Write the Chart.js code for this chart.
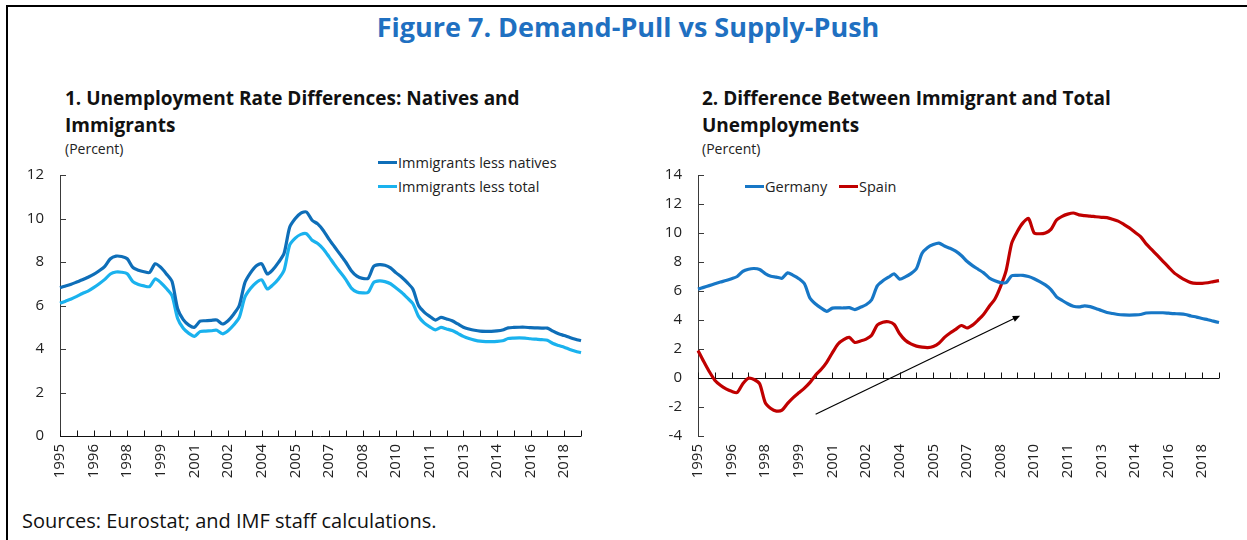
<!DOCTYPE html>
<html>
<head>
<meta charset="utf-8">
<script src="https://cdn.jsdelivr.net/npm/chart.js@4.4.1/dist/chart.umd.min.js"></script>
<style>
  body { margin: 0; background: #fff; font-family: "Open Sans", sans-serif; color: #1a1a1a; }
  #page { position: relative; width: 1247px; height: 540px; overflow: hidden; }
  .frame { position: absolute; left: 6px; top: 5px; width: 1260px; height: 560px; border-top: 2px solid #000; border-left: 2px solid #000; }
  .title { position: absolute; left: 0; width: 1256px; top: 8px; text-align: center; font-weight: 700; font-size: 27px; color: #1f70c1; }
  .sub { position: absolute; font-weight: 700; font-size: 19px; line-height: 27px; color: #111; }
  .unit { position: absolute; font-size: 14px; color: #222; }
  .legend { position: absolute; font-size: 14.5px; color: #222; display: flex; align-items: center; white-space: nowrap; }
  .legend i { display: inline-block; width: 19px; height: 3px; margin-right: 1px; }
  .source { position: absolute; left: 22px; top: 507px; font-size: 20px; color: #111; }
  canvas { position: absolute; }
</style>
</head>
<body>
<div id="page">
  <div class="frame"></div>
  <div class="title">Figure 7. Demand-Pull vs Supply-Push</div>

  <div class="sub" style="left:65px; top:85px;">1. Unemployment Rate Differences: Natives and<br>Immigrants</div>
  <div class="unit" style="left:65px; top:139px;">(Percent)</div>
  <div class="legend" style="left:378px; top:153px;"><i style="background:#0e6eb8"></i>Immigrants less natives</div>
  <div class="legend" style="left:378px; top:177px;"><i style="background:#1ab2ee"></i>Immigrants less total</div>

  <div class="sub" style="left:702px; top:85px;">2. Difference Between Immigrant and Total<br>Unemployments</div>
  <div class="unit" style="left:702px; top:139px;">(Percent)</div>
  <div class="legend" style="left:745px; top:177px;"><i style="background:#1777c6"></i>Germany</div>
  <div class="legend" style="left:839px; top:177px;"><i style="background:#c00000"></i>Spain</div>

  <canvas id="left-chart" width="620" height="340" style="left:0; top:150px;"></canvas>
  <canvas id="right-chart" width="607" height="340" style="left:640px; top:150px;"></canvas>

  <div class="source">Sources: Eurostat; and IMF staff calculations.</div>
</div>

<script>
// quarterly, 1995Q1 .. 2018Q2
const quarters = [];
for (let y = 1995; y <= 2018; y++) {
    for (let q = 1; q <= 4; q++) {
        if (y === 2018 && q > 2) break;
        quarters.push(y + 'Q' + q);
    }
}

// labels shown every 6 quarters, as printed on the chart
const yearLabels = ['1995', '1996', '1998', '1999', '2001', '2002', '2004', '2005',
                    '2007', '2008', '2010', '2011', '2013', '2014', '2016', '2018'];

const lessNatives = [
    6.82, 6.90, 6.98, 7.08, 7.18, 7.30, 7.43, 7.60, 7.80, 8.15,
    8.27, 8.25, 8.15, 7.75, 7.62, 7.55, 7.52, 7.92, 7.75, 7.45,
    7.10, 5.85, 5.35, 5.10, 5.00, 5.28, 5.30, 5.32, 5.33, 5.15,
    5.30, 5.60, 6.00, 7.05, 7.50, 7.82, 7.92, 7.45, 7.65, 7.98,
    8.40, 9.60, 10.00, 10.25, 10.30, 9.92, 9.75, 9.45, 9.05, 8.70,
    8.35, 8.00, 7.60, 7.35, 7.25, 7.25, 7.80, 7.88, 7.85, 7.73,
    7.50, 7.30, 7.05, 6.75, 6.00, 5.70, 5.50, 5.33, 5.45, 5.38,
    5.30, 5.15, 5.00, 4.92, 4.86, 4.82, 4.81, 4.81, 4.83, 4.87,
    4.97, 4.99, 5.00, 5.00, 4.98, 4.97, 4.96, 4.96, 4.82, 4.70,
    4.62, 4.53, 4.45, 4.38
];

const lessTotal = [
    6.10, 6.20, 6.30, 6.42, 6.55, 6.66, 6.82, 7.00, 7.20, 7.45,
    7.54, 7.53, 7.46, 7.10, 6.97, 6.90, 6.87, 7.22, 7.05, 6.78,
    6.45, 5.40, 4.95, 4.72, 4.58, 4.80, 4.82, 4.84, 4.86, 4.70,
    4.84, 5.10, 5.45, 6.38, 6.78, 7.05, 7.18, 6.76, 6.95, 7.22,
    7.62, 8.78, 9.10, 9.27, 9.30, 9.00, 8.85, 8.60, 8.25, 7.88,
    7.54, 7.20, 6.80, 6.62, 6.58, 6.60, 7.06, 7.13, 7.10, 7.00,
    6.80, 6.60, 6.35, 6.08, 5.50, 5.20, 5.02, 4.88, 4.99, 4.92,
    4.85, 4.72, 4.58, 4.48, 4.41, 4.36, 4.34, 4.34, 4.35, 4.38,
    4.48, 4.50, 4.51, 4.50, 4.47, 4.45, 4.43, 4.40, 4.25, 4.16,
    4.08, 3.98, 3.90, 3.83
];

const germany = [
    6.13, 6.25, 6.37, 6.50, 6.62, 6.72, 6.85, 7.00, 7.35, 7.50,
    7.55, 7.48, 7.20, 7.02, 6.96, 6.88, 7.25, 7.08, 6.85, 6.50,
    5.50, 5.10, 4.82, 4.60, 4.82, 4.83, 4.83, 4.85, 4.72, 4.88,
    5.05, 5.40, 6.35, 6.70, 6.95, 7.18, 6.82, 6.97, 7.20, 7.55,
    8.60, 9.00, 9.20, 9.30, 9.10, 8.95, 8.75, 8.45, 8.05, 7.75,
    7.50, 7.25, 6.90, 6.70, 6.58, 6.57, 7.05, 7.08, 7.08, 7.00,
    6.85, 6.65, 6.42, 6.10, 5.60, 5.35, 5.12, 4.95, 4.90, 4.98,
    4.92, 4.80, 4.65, 4.52, 4.45, 4.38, 4.35, 4.34, 4.35, 4.38,
    4.48, 4.50, 4.50, 4.50, 4.47, 4.44, 4.42, 4.38, 4.28, 4.20,
    4.10, 4.02, 3.92, 3.83
];

const spain = [
    1.90, 1.15, 0.45, -0.15, -0.50, -0.75, -0.92, -1.00, -0.40, -0.02,
    -0.10, -0.40, -1.70, -2.10, -2.28, -2.22, -1.75, -1.35, -1.02, -0.70,
    -0.30, 0.20, 0.60, 1.10, 1.75, 2.35, 2.65, 2.80, 2.45, 2.55,
    2.68, 2.95, 3.65, 3.85, 3.88, 3.70, 3.05, 2.60, 2.35, 2.20,
    2.13, 2.10, 2.18, 2.40, 2.80, 3.10, 3.35, 3.62, 3.45, 3.65,
    4.00, 4.40, 4.95, 5.45, 6.30, 7.40, 9.30, 10.10, 10.70, 11.00,
    10.00, 9.95, 10.00, 10.25, 10.90, 11.15, 11.30, 11.38, 11.25, 11.20,
    11.17, 11.12, 11.08, 11.06, 10.95, 10.82, 10.60, 10.35, 10.05, 9.75,
    9.25, 8.85, 8.45, 8.05, 7.65, 7.25, 6.98, 6.75, 6.58, 6.53,
    6.53, 6.57, 6.65, 6.72
];

// trend arrow in panel 2, [quarter index, percent]
const arrowFrom = [21, -2.5];
const arrowTo = [57.5, 4.3];

// axis lines with inside tick marks, drawn at y = 0
const axisPlugin = {
    id: 'insideAxes',
    beforeDatasetsDraw(chart) {
        const ctx = chart.ctx;
        const x = chart.scales.x;
        const y = chart.scales.y;
        const area = chart.chartArea;
        const y0 = y.getPixelForValue(0);
        ctx.save();
        ctx.lineWidth = 1;
        ctx.strokeStyle = '#3a3a3a';
        ctx.beginPath();
        ctx.moveTo(area.left + 0.5, area.top);
        ctx.lineTo(area.left + 0.5, area.bottom);
        y.ticks.forEach(t => {
            const py = Math.round(y.getPixelForValue(t.value)) + 0.5;
            ctx.moveTo(area.left, py);
            ctx.lineTo(area.left + 6, py);
        });
        ctx.stroke();
        ctx.strokeStyle = '#111';
        ctx.beginPath();
        const zy = Math.round(y0) + 0.5;
        ctx.moveTo(area.left, zy);
        ctx.lineTo(area.right, zy);
        for (let i = 0; i < quarters.length; i += 3) {
            const px = Math.round(x.getPixelForValue(i)) + 0.5;
            ctx.moveTo(px, zy);
            ctx.lineTo(px, zy - 6);
        }
        ctx.stroke();
        ctx.restore();
    }
};

const arrowPlugin = {
    id: 'trendArrow',
    afterDatasetsDraw(chart) {
        const ctx = chart.ctx;
        const x = chart.scales.x;
        const y = chart.scales.y;
        const x1 = x.getPixelForValue(arrowFrom[0]), y1 = y.getPixelForValue(arrowFrom[1]);
        const x2 = x.getPixelForValue(arrowTo[0]), y2 = y.getPixelForValue(arrowTo[1]);
        const a = Math.atan2(y2 - y1, x2 - x1);
        ctx.save();
        ctx.strokeStyle = '#000';
        ctx.fillStyle = '#000';
        ctx.lineWidth = 1.2;
        ctx.beginPath();
        ctx.moveTo(x1, y1);
        ctx.lineTo(x2 - 5 * Math.cos(a), y2 - 5 * Math.sin(a));
        ctx.stroke();
        ctx.beginPath();
        ctx.moveTo(x2, y2);
        ctx.lineTo(x2 - 8 * Math.cos(a - 0.4), y2 - 8 * Math.sin(a - 0.4));
        ctx.lineTo(x2 - 8 * Math.cos(a + 0.4), y2 - 8 * Math.sin(a + 0.4));
        ctx.closePath();
        ctx.fill();
        ctx.restore();
    }
};

function lineSet(data, color) {
    return {
        data: data,
        borderColor: color,
        borderWidth: 3.2,
        pointRadius: 0,
        tension: 0.25,
        fill: false
    };
}

function makeOptions(yMin, yMax, axisWidth, pad) {
    return {
        responsive: false,
        animation: false,
        layout: { padding: pad },
        plugins: { legend: { display: false }, tooltip: { enabled: false } },
        scales: {
            x: {
                type: 'category',
                offset: false,
                grid: { display: false, drawTicks: false },
                border: { display: false },
                afterFit: scale => { scale.height = 54; },
                ticks: {
                    autoSkip: false,
                    minRotation: 90,
                    maxRotation: 90,
                    padding: 8,
                    color: '#222',
                    font: { family: 'Open Sans', size: 15 },
                    callback: (val, i) => (i % 6 === 0 ? yearLabels[i / 6] : '')
                }
            },
            y: {
                min: yMin,
                max: yMax,
                grid: { display: false, drawTicks: false },
                border: { display: false },
                afterFit: scale => { scale.width = axisWidth; },
                ticks: {
                    stepSize: 2,
                    padding: 16,
                    color: '#222',
                    font: { family: 'Open Sans', size: 15 }
                }
            }
        }
    };
}

new Chart(document.getElementById('left-chart'), {
    type: 'line',
    data: {
        labels: quarters,
        datasets: [lineSet(lessNatives, '#0e6eb8'), lineSet(lessTotal, '#1ab2ee')]
    },
    options: makeOptions(0, 12, 60, { left: 0, right: 39, top: 18, bottom: 0 }),
    plugins: [axisPlugin]
});

new Chart(document.getElementById('right-chart'), {
    type: 'line',
    data: {
        labels: quarters,
        datasets: [lineSet(germany, '#1777c6'), lineSet(spain, '#c00000')]
    },
    options: makeOptions(-4, 14, 58, { left: 0, right: 28, top: 17, bottom: 0 }),
    plugins: [axisPlugin, arrowPlugin]
});
</script>
</body>
</html>
